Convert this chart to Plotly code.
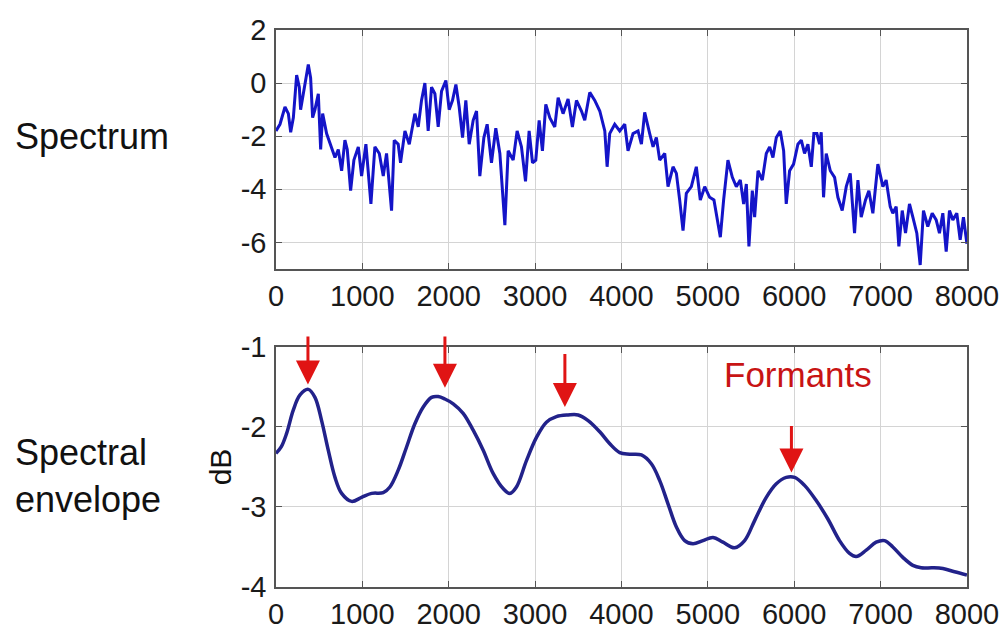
import plotly.graph_objects as go

# ---------------- data ----------------
spec_freq = [0, 46, 104, 143, 170, 201, 239, 270, 285, 316, 374, 401, 424, 451, 490, 517, 540, 586,
             644, 683, 721, 760, 798, 825, 864, 902, 953, 991, 1041, 1099, 1145, 1196, 1242, 1280,
             1338, 1369, 1415, 1442, 1493, 1543, 1608, 1647, 1685, 1724, 1762, 1801, 1840, 1878,
             1917, 1967, 2005, 2044, 2083, 2121, 2160, 2198, 2237, 2283, 2322, 2360, 2407, 2445,
             2495, 2545, 2592, 2650, 2688, 2746, 2792, 2842, 2889, 2931, 2970, 3008, 3047, 3085,
             3124, 3170, 3228, 3267, 3324, 3382, 3432, 3479, 3537, 3575, 3633, 3691, 3749, 3807,
             3834, 3864, 3922,
             3980, 4038, 4076, 4134, 4192, 4231, 4269, 4327, 4366, 4404, 4443, 4501, 4539, 4597,
             4636, 4674, 4713, 4751, 4809, 4867, 4913, 4964, 5021, 5071, 5106, 5145, 5183, 5233,
             5284, 5330, 5376, 5415, 5446, 5476, 5515, 5542, 5581, 5631, 5677, 5716, 5754, 5793,
             5839, 5878, 5908, 5947, 5993, 6043, 6082, 6120, 6159, 6198, 6228, 6263, 6294, 6313,
             6340, 6371, 6418, 6468, 6506, 6556, 6603, 6649, 6699, 6738, 6776, 6826, 6865, 6911,
             6969, 7027, 7065, 7112, 7142, 7181, 7212, 7251, 7289, 7335, 7374, 7420, 7459, 7497,
             7547, 7598, 7644, 7682, 7721, 7760, 7798, 7837, 7883, 7922, 7960, 8000]
spec_db = [-1.8, -1.55, -0.9, -1.15, -1.85, -1.3, 0.3, -0.15, -1.0, -0.4, 0.7, 0.2, -1.3, -1.0,
           -0.4, -2.5, -1.15, -1.9, -2.4, -2.8, -2.5, -3.3, -2.15, -2.5, -4.05, -2.9, -2.4, -3.5,
           -2.3, -4.55, -2.4, -2.65, -3.5, -2.65, -4.8, -2.15, -2.3, -3.0, -1.8, -2.3, -1.15, -1.65,
           -0.65, 0.0, -1.8, -0.15, -0.4, -1.65, -0.3, 0.1, -1.0, -0.65, -0.05, -0.9, -2.05, -0.65,
           -2.3, -1.4, -1.05, -3.5, -2.05, -1.55, -3.0, -1.7, -2.65, -5.35, -2.55, -2.9, -1.8, -2.4,
           -3.7, -1.8, -3.0, -2.9, -1.4, -2.55, -0.8, -1.3, -1.65, -0.55, -1.15, -0.6, -1.65, -0.65,
           -1.05, -1.4, -0.35, -0.65, -1.05, -1.8, -3.15, -1.9, -1.55,
           -1.8, -1.55, -2.55, -1.9, -1.8, -2.3, -1.1, -1.9, -2.4, -2.05, -2.9, -2.65, -3.9, -3.15,
           -3.4, -4.4, -5.55, -4.15, -3.9, -3.15, -4.4, -3.9, -4.3, -4.4, -5.05, -5.8, -4.4, -2.9,
           -3.55, -3.9, -3.65, -4.55, -3.8, -6.15, -4.05, -5.05, -3.3, -3.65, -2.65, -2.4, -2.8,
           -2.05, -1.8, -2.55, -4.55, -3.3, -3.05, -2.3, -2.15, -2.65, -2.3, -3.15, -1.9, -1.9,
           -2.3, -1.85, -4.3, -2.65, -3.3, -3.55, -4.3, -4.8, -3.9, -3.4, -5.65, -3.65, -5.05, -4.4,
           -4.05, -4.9, -3.05, -3.9, -3.65, -4.65, -4.9, -4.65, -6.15, -4.8, -5.65, -4.55, -5.05,
           -5.65, -6.85, -4.8, -5.4, -4.9, -5.15, -5.65, -4.9, -6.35, -4.8, -5.15, -4.9, -5.9,
           -5.05, -6.05]

env_freq = [0, 60, 123, 200, 278, 374, 451, 528, 605, 683, 760, 876, 991, 1107, 1242, 1319, 1415,
            1512, 1608, 1705, 1801, 1878, 1955, 2052, 2167, 2283, 2399, 2514, 2630, 2707, 2784,
            2900, 3016, 3131, 3247, 3382, 3498, 3614, 3749, 3865, 3980, 4096, 4231, 4346, 4443,
            4539, 4636, 4732, 4828, 4944, 5060, 5175, 5310, 5426, 5542, 5677, 5793, 5908, 6005,
            6120, 6255, 6390, 6525, 6641, 6718, 6834, 6949, 7046, 7142, 7258, 7374, 7470, 7605,
            7721, 7856, 8000]
env_db = [-2.33, -2.25, -2.08, -1.79, -1.6, -1.53, -1.63, -1.92, -2.29, -2.63, -2.83, -2.93, -2.88,
          -2.83, -2.82, -2.75, -2.54, -2.25, -1.96, -1.75, -1.63, -1.62, -1.65, -1.71, -1.83, -2.04,
          -2.29, -2.58, -2.77, -2.83, -2.75, -2.42, -2.13, -1.94, -1.87, -1.85, -1.85, -1.92, -2.06,
          -2.21, -2.32, -2.34, -2.35, -2.46, -2.67, -2.96, -3.25, -3.42, -3.46, -3.42, -3.38, -3.44,
          -3.51, -3.42, -3.17, -2.88, -2.71, -2.63, -2.63, -2.73, -2.92, -3.15, -3.42, -3.58, -3.62,
          -3.54, -3.44, -3.42, -3.5, -3.63, -3.73, -3.76, -3.76, -3.77, -3.81, -3.85]

# formant arrows: frequency, tip dB, tail dB
formant_freq = [370, 1956, 3345, 5968]
formant_tip = [-1.47, -1.51, -1.75, -2.57]
formant_tail = [-0.85, -0.85, -1.07, -1.97]

x_ticks = [0, 1000, 2000, 3000, 4000, 5000, 6000, 7000, 8000]
y1_ticks = [2, 0, -2, -4, -6]
y2_ticks = [-1, -2, -3, -4]

# ---------------- figure ----------------
TICKFONT = dict(family="Liberation Sans, Arial", size=29, color="#1a1a1a")
LABELFONT = dict(family="Liberation Sans, Arial", size=36, color="#111111")

fig = go.Figure()
fig.add_trace(go.Scatter(x=spec_freq, y=spec_db, mode="lines",
                         line=dict(color="#1414c8", width=3), xaxis="x", yaxis="y",
                         showlegend=False))
fig.add_trace(go.Scatter(x=env_freq, y=env_db, mode="lines",
                         line=dict(color="#22228a", width=3.5, shape="spline", smoothing=1.0),
                         xaxis="x2", yaxis="y2", showlegend=False))

axis_common = dict(showgrid=True, gridcolor="#d4d4d4", gridwidth=1, showline=True,
                   linecolor="#555555", linewidth=1.5, mirror="ticks", ticks="inside",
                   ticklen=6, tickcolor="#555555", tickfont=TICKFONT, zeroline=False,
                   ticklabeloverflow="allow", automargin=False)

fig.update_layout(
    width=1000, height=637,
    margin=dict(l=0, r=0, t=0, b=0),
    paper_bgcolor="white", plot_bgcolor="white",
    xaxis=dict(domain=[0.276, 0.967], range=[0, 8001], anchor="y",
               tickvals=x_ticks, ticktext=[str(v) for v in x_ticks], **axis_common),
    yaxis=dict(domain=[0.5777, 0.9529], range=[-7, 2], anchor="x",
               tickvals=y1_ticks, ticktext=[str(v) for v in y1_ticks],
               ticklabelstandoff=2, **axis_common),
    xaxis2=dict(domain=[0.276, 0.967], range=[0, 8001], anchor="y2",
                tickvals=x_ticks, ticktext=[str(v) for v in x_ticks], **axis_common),
    yaxis2=dict(domain=[0.0785, 0.4553], range=[-4, -1], anchor="x2",
                tickvals=y2_ticks, ticktext=[str(v) for v in y2_ticks],
                ticklabelstandoff=2,
                title=dict(text="dB", font=dict(family="Liberation Sans, Arial", size=30, color="#111111"),
                           standoff=0),
                **axis_common),
)

annotations = [
    dict(text="Spectrum", x=0.013, y=0.785, xref="paper", yref="paper", xanchor="left",
         yanchor="middle", showarrow=False, font=LABELFONT),
    dict(text="Spectral<br>envelope", x=0.013, y=0.252, xref="paper", yref="paper", xanchor="left",
         yanchor="middle", align="left", showarrow=False, font=LABELFONT),
    dict(text="Formants", x=6040, y=-1.35, xref="x2", yref="y2", xanchor="center",
         yanchor="middle", showarrow=False,
         font=dict(family="Liberation Sans, Arial", size=35, color="#c81414")),
]
for f, tip, tail in zip(formant_freq, formant_tip, formant_tail):
    annotations.append(dict(x=f, y=tip, ax=f, ay=tail, xref="x2", yref="y2", axref="x2", ayref="y2",
                            text="", showarrow=True, arrowhead=2, arrowsize=1.6, arrowwidth=3,
                            arrowcolor="#e01414"))
fig.update_layout(annotations=annotations)

fig.write_html("out.html")
